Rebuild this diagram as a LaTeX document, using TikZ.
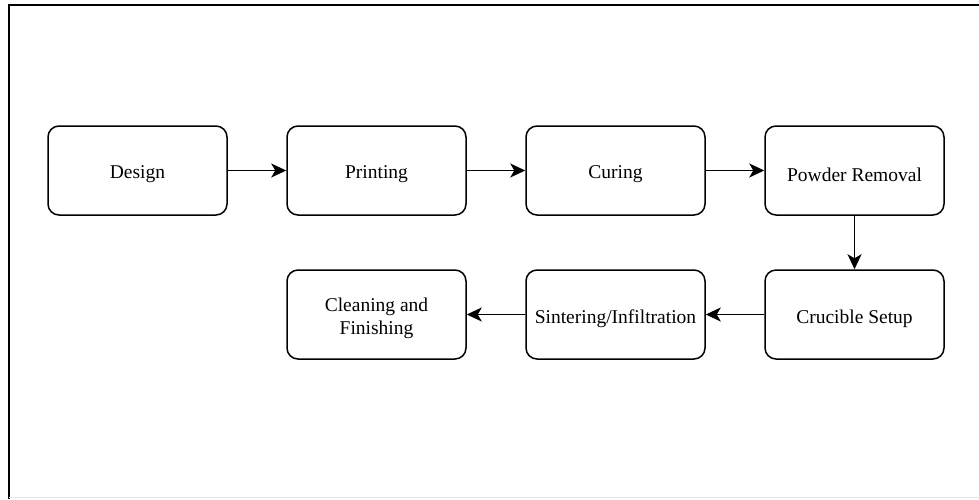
\documentclass[tikz,border=0pt]{standalone}
\usepackage{fontspec}
\setmainfont{Liberation Serif}
\usetikzlibrary{arrows.meta}
\begin{document}
\begin{tikzpicture}[x=1pt,y=-1pt,
  stage/.style={draw=black, line width=1.5pt, rounded corners=11pt, fill=white,
    minimum width=179pt, minimum height=89pt, inner sep=0pt},
  caption/.style={align=center, inner sep=0pt,
    font=\fontsize{19.5}{23.5}\selectfont},
  flow/.style={line width=1.5pt, -{Stealth[length=15pt,width=14pt,inset=4pt]}}]
  \useasboundingbox (0,0) rectangle (979,499);
  % window frame
  \draw[line width=2.5pt] (9,499) -- (9,5) -- (979,5);
  \draw[line width=1pt, black!10] (9,497.5) -- (979,497.5);
  % top row
  \node[stage] (design) at (137.5,170.5) {};
  \node[stage] (print)  at (376.5,170.5) {};
  \node[stage] (cure)   at (615.5,170.5) {};
  \node[stage] (powder) at (854.5,170.5) {};
  % bottom row
  \node[stage] (cruc)   at (854.5,314.5) {};
  \node[stage] (sinter) at (615.5,314.5) {};
  \node[stage] (clean)  at (376.5,314.5) {};
  % captions, set a little below the box centres
  \foreach \n/\t in {design/Design, print/Printing, cure/Curing,
      powder/Powder Removal, cruc/Crucible Setup,
      sinter/Sintering\slash Infiltration, clean/{Cleaning and\\Finishing}}
    \node[caption] (\n-text) at ([yshift=-4pt]\n.center) {\t};
  % connectors
  \draw[flow] (design) -- (print);
  \draw[flow] (print) -- (cure);
  \draw[flow] (cure) -- (powder);
  \draw[flow] (powder) -- (cruc);
  \draw[flow] (cruc) -- (sinter);
  \draw[flow] (sinter) -- (clean);
\end{tikzpicture}
\end{document}
